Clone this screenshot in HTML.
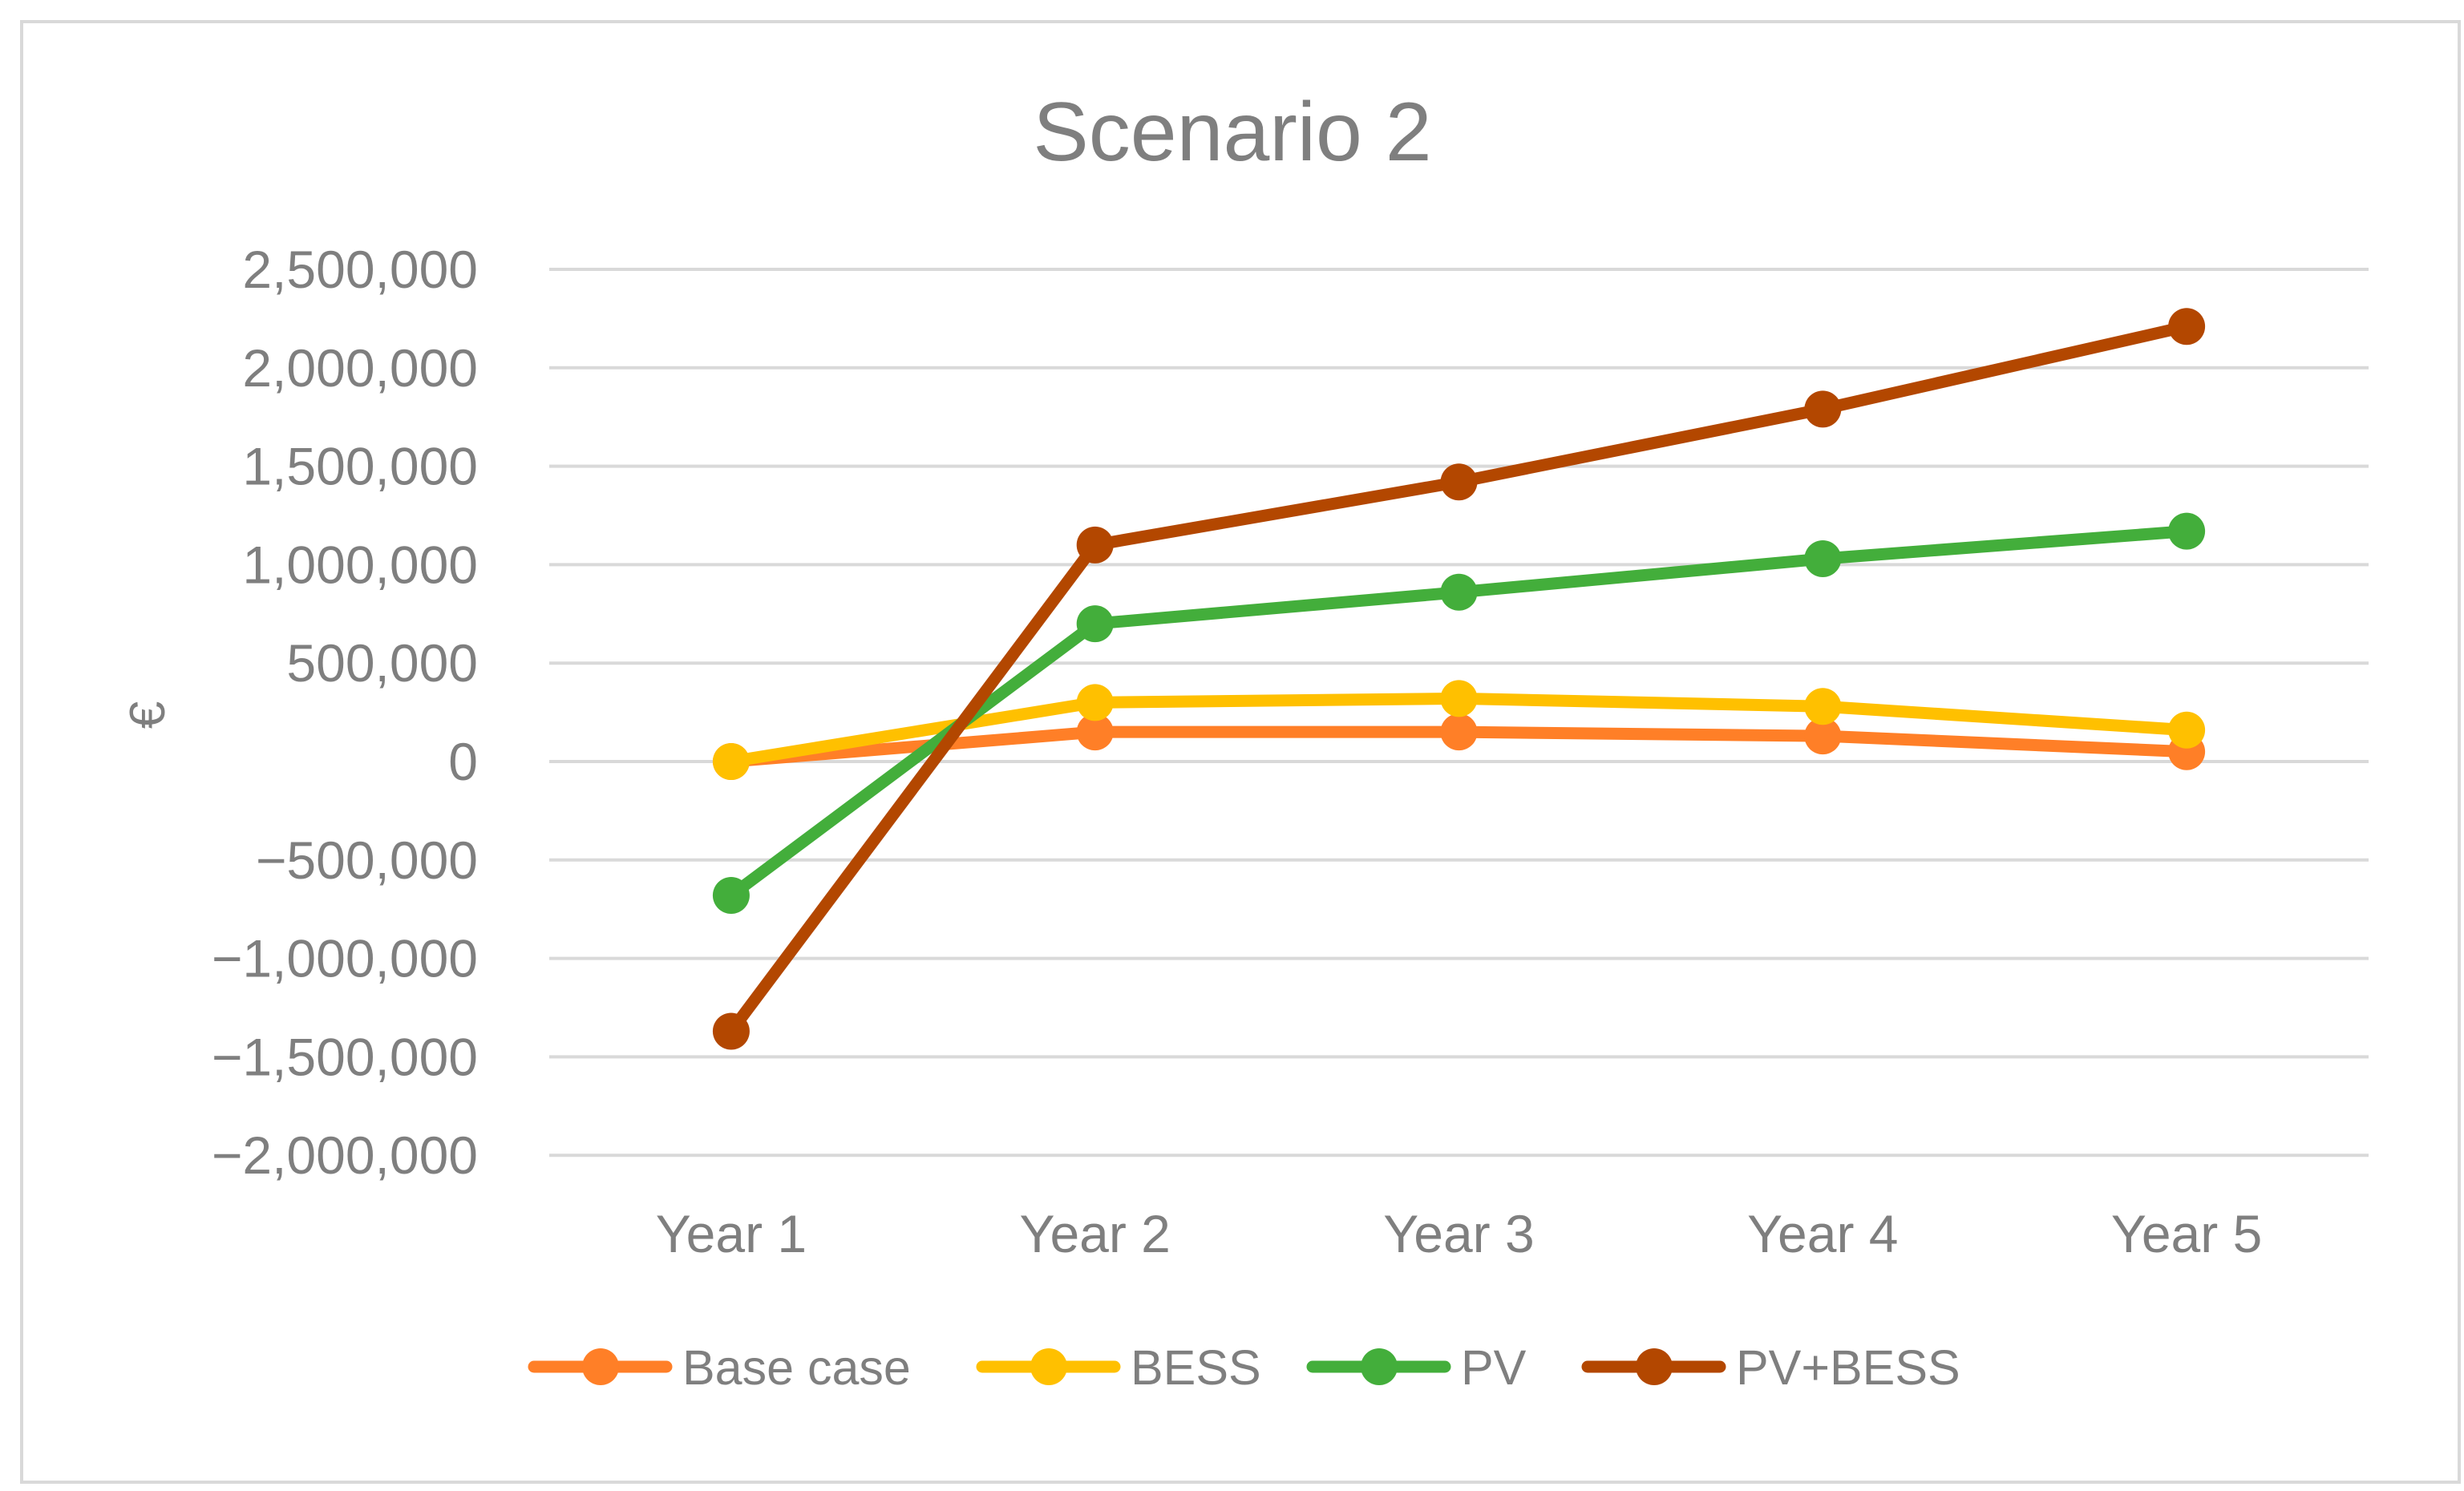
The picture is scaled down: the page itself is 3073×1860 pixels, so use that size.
<!DOCTYPE html>
<html><head><meta charset="utf-8"><style>
body{margin:0;background:#fff}
svg text{font-family:"Liberation Sans",sans-serif;fill:#7f7f7f}
</style></head><body>
<svg id="chart" width="3073" height="1855" viewBox="0 0 3073 1855" xmlns="http://www.w3.org/2000/svg">
<rect x="27" y="27" width="3040" height="1822" fill="#fff" stroke="#d9d9d9" stroke-width="4"/>
<text x="1537" y="200" font-size="104" text-anchor="middle">Scenario 2</text>
<text transform="translate(205,892) rotate(-90)" font-size="62" text-anchor="middle">€</text>
<g id="grid"></g><g id="series"></g><g id="legend"></g>
</svg>
<script>
const categories=["Year 1","Year 2","Year 3","Year 4","Year 5"];
const yTicks=[2500000,2000000,1500000,1000000,500000,0,-500000,-1000000,-1500000,-2000000];
const seriesNames=["Base case","BESS","PV","PV+BESS"];
const baseCase=[0,150000,150000,130000,50000];
const bess=[0,300000,320000,280000,160000];
const pv=[-680000,700000,860000,1030000,1170000];
const pvBess=[-1370000,1100000,1420000,1790000,2210000];
const colors=["#ff7f27","#ffc000","#43ae3b","#b34700"];
const NS="http://www.w3.org/2000/svg";
const L=685,R=2954,y0=950,per=122.8/500000;
const ys=v=>y0-v*per;
const xs=i=>L+(R-L)/categories.length*(i+0.5);
function mk(t,a,p){const e=document.createElementNS(NS,t);for(const k in a)e.setAttribute(k,a[k]);p.appendChild(e);return e;}
const g=document.getElementById('grid');
yTicks.forEach(v=>{
 const l=mk('line',{x1:L,x2:R,y1:ys(v),y2:ys(v),stroke:'#d9d9d9','stroke-width':4},g);
 
 
 const t=mk('text',{x:596,y:ys(v)+23,'font-size':66,'text-anchor':'end'},g);
 t.textContent=v===0?'0':(v<0?'\u2212':'')+Math.abs(v).toLocaleString('en-US');
 
 
});
categories.forEach((c,i)=>{
 const t=mk('text',{x:xs(i),y:1562,'font-size':66,'text-anchor':'middle'},g);
 t.textContent=c;
 
 
});
const s=document.getElementById('series');
[baseCase,bess,pv,pvBess].forEach((d,k)=>{
 const grp=mk('g',{},s);
 
 
 const pl=mk('polyline',{points:d.map((v,i)=>xs(i)+','+ys(v)).join(' '),fill:'none',stroke:colors[k],'stroke-width':15,'stroke-linejoin':'round'},grp);
 
 
 d.forEach((v,i)=>{
  const c=mk('circle',{cx:xs(i),cy:ys(v),r:23,fill:colors[k]},grp);
  
  
 });
});
const lg=document.getElementById('legend');
const lx=[666,1225,1637,1980];
seriesNames.forEach((n,k)=>{
 const grp=mk('g',{},lg);
 
 
 mk('line',{x1:lx[k],x2:lx[k]+165,y1:1705,y2:1705,stroke:colors[k],'stroke-width':15,'stroke-linecap':'round'},grp);
 mk('circle',{cx:lx[k]+83,cy:1705,r:23,fill:colors[k]},grp);
 const t=mk('text',{x:lx[k]+185,y:1727,'font-size':61},grp);
 t.textContent=n;
});
</script>
</body></html>
